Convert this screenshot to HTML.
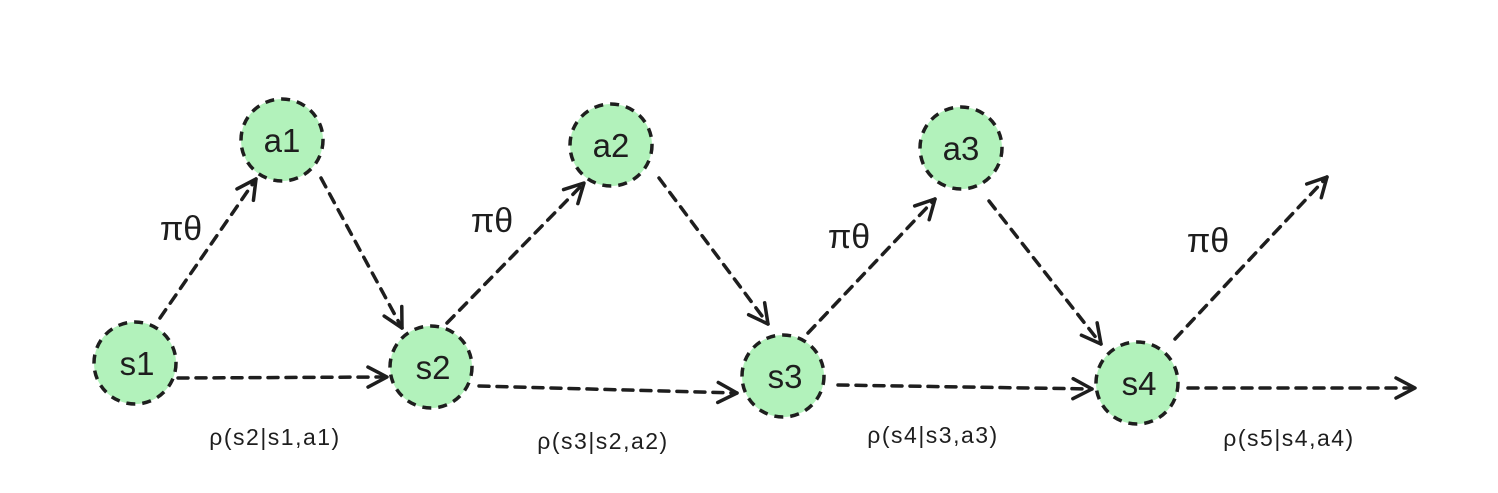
<!DOCTYPE html>
<html><head><meta charset="utf-8"><style>
html,body{margin:0;padding:0;background:#fff;}
svg{display:block;}
text{font-family:"Liberation Sans",sans-serif;fill:#1e1e1e;}
</style></head><body>
<svg width="1498" height="493" viewBox="0 0 1498 493" xmlns="http://www.w3.org/2000/svg">
<defs>
<marker id="ah" viewBox="0 0 26 26" refX="23" refY="13" markerWidth="26" markerHeight="26" markerUnits="userSpaceOnUse" orient="auto">
<path d="M4 3 L23 13 L4 23" fill="none" stroke="#1e1e1e" stroke-width="3.5" stroke-linecap="round" stroke-linejoin="round"/>
</marker>
</defs>
<g fill="#b2f2bb" stroke="#1e1e1e" stroke-width="3.5" stroke-dasharray="9 7">
<circle cx="135" cy="363" r="41"/>
<circle cx="282" cy="140" r="41"/>
<circle cx="431" cy="367" r="41"/>
<circle cx="611" cy="145" r="41"/>
<circle cx="783" cy="376" r="41"/>
<circle cx="961" cy="148" r="41"/>
<circle cx="1137" cy="383" r="41"/>
</g>
<g stroke="#1e1e1e" stroke-width="3.5" stroke-dasharray="10 8" stroke-linecap="round" fill="none" marker-end="url(#ah)">
<line x1="160" y1="318" x2="256" y2="179"/>
<line x1="321" y1="178" x2="402" y2="328"/>
<line x1="178" y1="378" x2="387" y2="377"/>
<line x1="447" y1="323" x2="584" y2="183"/>
<line x1="659" y1="178" x2="768" y2="324"/>
<line x1="479" y1="386" x2="737" y2="393"/>
<line x1="808" y1="333" x2="935" y2="199"/>
<line x1="989" y1="201" x2="1101" y2="344"/>
<line x1="838" y1="385" x2="1092" y2="389"/>
<line x1="1175" y1="339" x2="1327" y2="177"/>
<line x1="1188" y1="388" x2="1415" y2="388"/>
</g>
<g font-size="33" text-anchor="middle">
<text x="137" y="375">s1</text>
<text x="282" y="152">a1</text>
<text x="433" y="379">s2</text>
<text x="611" y="157">a2</text>
<text x="785" y="388">s3</text>
<text x="961" y="160">a3</text>
<text x="1139" y="395">s4</text>
</g>
<g font-size="34" text-anchor="middle">
<text x="181" y="240">πθ</text>
<text x="492" y="232">πθ</text>
<text x="849" y="248">πθ</text>
<text x="1208" y="252">πθ</text>
</g>
<g font-size="23" text-anchor="middle" letter-spacing="1.5">
<text x="275" y="445">ρ(s2|s1,a1)</text>
<text x="603" y="449">ρ(s3|s2,a2)</text>
<text x="933" y="443">ρ(s4|s3,a3)</text>
<text x="1289" y="446">ρ(s5|s4,a4)</text>
</g>
</svg>
</body></html>
